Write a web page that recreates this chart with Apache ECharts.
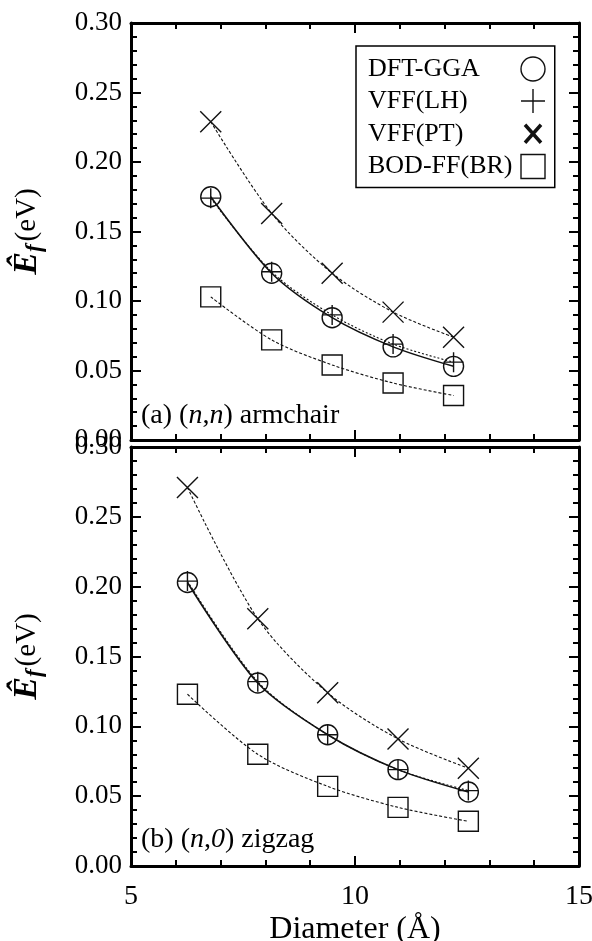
<!DOCTYPE html>
<html>
<head>
<meta charset="utf-8">
<script src="https://cdn.jsdelivr.net/npm/echarts@6/dist/echarts.min.js"></script>
<style>
html, body { margin: 0; padding: 0; background: #fff; }
#chart { width: 592px; height: 941px; }
</style>
</head>
<body>
<div id="chart"></div>
<script>
// diameters (Å)
const armDiam = [6.78, 8.14, 9.49, 10.85, 12.20];
const zigDiam = [6.26, 7.83, 9.39, 10.96, 12.53];
// formation energies (eV), (a) armchair
const armDFT = [0.175, 0.120, 0.088, 0.067, 0.053];
const armLH = [0.174, 0.121, 0.090, 0.069, 0.056];
const armPT = [0.229, 0.163, 0.120, 0.092, 0.074];
const armBR = [0.103, 0.072, 0.054, 0.041, 0.032];
// (b) zigzag
const zigDFT = [0.203, 0.131, 0.094, 0.069, 0.053];
const zigLH = [0.204, 0.132, 0.094, 0.069, 0.054];
const zigPT = [0.271, 0.177, 0.124, 0.091, 0.070];
const zigBR = [0.123, 0.080, 0.057, 0.042, 0.032];
const names = ["DFT-GGA", "VFF(LH)", "VFF(PT)", "BOD-FF(BR)"];

const FONT = "Liberation Serif";
const INK = "#111";
const PLUS = "path://M10,0L10,20M0,10L20,10";
const CROSS = "path://M0,0L20,20M20,0L0,20";
const CROSS_PAD = "path://M0,0M24,24M4,3L20,21M20,3L4,21";

const chart = echarts.init(document.getElementById("chart"));

function pairs(xs, ys) {
    return xs.map((x, i) => [x, ys[i]]);
}

// look of each series, by index in names
const looks = [
    {symbol: "circle", size: 20, type: "solid", width: 1.6},
    {symbol: PLUS, size: 20, type: [2, 2], width: 1.1},
    {symbol: CROSS, size: 21, type: [3, 2], width: 1.1},
    {symbol: "rect", size: 20, type: [3, 2], width: 1.1}
];

function makeSeries(idx, xs, ys, grid) {
    const lk = looks[idx];
    return {
        name: names[idx],
        type: "line",
        xAxisIndex: grid * 2,
        yAxisIndex: grid * 2,
        data: pairs(xs, ys),
        smooth: 0.3,
        symbol: lk.symbol,
        symbolSize: lk.size,
        itemStyle: {color: "transparent", borderColor: INK, borderWidth: 1.4},
        lineStyle: {color: INK, width: lk.width, type: lk.type},
        emphasis: {disabled: true},
        silent: true,
        animation: false
    };
}

function xAx(grid, pos, labels) {
    return {
        type: "value",
        gridIndex: grid,
        position: pos,
        min: 5,
        max: 15,
        interval: 5,
        axisLine: {onZero: false, lineStyle: {color: "#000", width: 3}},
        axisTick: {inside: true, length: 10, lineStyle: {color: "#000", width: 2}},
        minorTick: {show: true, splitNumber: 5, length: 6, lineStyle: {color: "#000", width: 2}},
        axisLabel: {show: labels, margin: 17, color: "#000", fontFamily: FONT, fontSize: 28},
        splitLine: {show: false},
        name: labels ? "Diameter (Å)" : "",
        nameLocation: "middle",
        nameGap: 48,
        nameTextStyle: {color: "#000", fontFamily: FONT, fontSize: 32}
    };
}

function yAx(grid, pos, labels) {
    return {
        type: "value",
        gridIndex: grid,
        position: pos,
        min: 0,
        max: 0.3,
        interval: 0.05,
        axisLine: {show: true, onZero: false, lineStyle: {color: "#000", width: 3}},
        axisTick: {inside: true, length: 10, lineStyle: {color: "#000", width: 2}},
        minorTick: {show: true, splitNumber: 5, length: 6, lineStyle: {color: "#000", width: 2}},
        axisLabel: {
            show: labels, margin: 9, color: "#000", fontFamily: FONT, fontSize: 27,
            formatter: (v) => v.toFixed(2)
        },
        splitLine: {show: false},
        name: labels ? "{e|Ê}{s|f}{u|(eV)}" : "",
        nameLocation: "middle",
        nameRotate: 90,
        nameGap: 84,
        nameTextStyle: {
            color: "#000",
            fontFamily: FONT,
            rich: {
                e: {fontFamily: FONT, fontSize: 34, fontWeight: "bold", fontStyle: "italic", lineHeight: 40, color: "#000"},
                s: {fontFamily: FONT, fontSize: 23, fontWeight: "bold", fontStyle: "italic", verticalAlign: "bottom", lineHeight: 40, padding: [0, 3, 0, 0], color: "#000"},
                u: {fontFamily: FONT, fontSize: 29, lineHeight: 40, color: "#000"}
            }
        }
    };
}

const labelStyle = {
    fontFamily: FONT, fontSize: 28, fontWeight: "normal", color: "#000", lineHeight: 28,
    rich: {i: {fontFamily: FONT, fontSize: 28, fontStyle: "italic", lineHeight: 28, color: "#000"}}
};

const option = {
    backgroundColor: "#fff",
    animation: false,
    grid: [
        {left: 131, right: 13, top: 23, height: 417, outerBoundsMode: "none"},
        {left: 131, right: 13, top: 447, height: 419, outerBoundsMode: "none"}
    ],
    xAxis: [xAx(0, "bottom", false), xAx(0, "top", false), xAx(1, "bottom", true), xAx(1, "top", false)],
    yAxis: [yAx(0, "left", true), yAx(0, "right", false), yAx(1, "left", true), yAx(1, "right", false)],
    title: [
        {text: "(a) ({i|n},{i|n}) armchair", left: 141, top: 402, padding: 0, textStyle: labelStyle},
        {text: "(b) ({i|n},{i|0}) zigzag", left: 141, top: 826, padding: 0, textStyle: labelStyle}
    ],
    legend: {
        orient: "vertical",
        left: 356,
        top: 46,
        align: "right",
        padding: [10, 8, 8, 12],
        itemGap: 6,
        itemWidth: 24,
        itemHeight: 24,
        borderColor: "#000",
        borderWidth: 1.5,
        backgroundColor: "#fff",
        selectedMode: false,
        formatter: (n) => "{t|" + n + "}",
        textStyle: {
            color: "#000", fontFamily: FONT, fontSize: 26, lineHeight: 24,
            rich: {t: {width: 148, align: "left", fontFamily: FONT, fontSize: 26, lineHeight: 24, color: "#000"}}
        },
        data: [
            {name: names[0], icon: "circle", itemStyle: {color: "transparent", borderColor: INK, borderWidth: 1.4}},
            {name: names[1], icon: PLUS, itemStyle: {color: "transparent", borderColor: INK, borderWidth: 1.4}},
            {name: names[2], icon: CROSS_PAD, itemStyle: {color: "transparent", borderColor: INK, borderWidth: 3.5}},
            {name: names[3], icon: "rect", itemStyle: {color: "transparent", borderColor: INK, borderWidth: 1.4}}
        ]
    },
    series: [
        makeSeries(3, armDiam, armBR, 0),
        makeSeries(1, armDiam, armLH, 0),
        makeSeries(0, armDiam, armDFT, 0),
        makeSeries(2, armDiam, armPT, 0),
        makeSeries(3, zigDiam, zigBR, 1),
        makeSeries(1, zigDiam, zigLH, 1),
        makeSeries(0, zigDiam, zigDFT, 1),
        makeSeries(2, zigDiam, zigPT, 1)
    ]
};

chart.setOption(option);
</script>
</body>
</html>
